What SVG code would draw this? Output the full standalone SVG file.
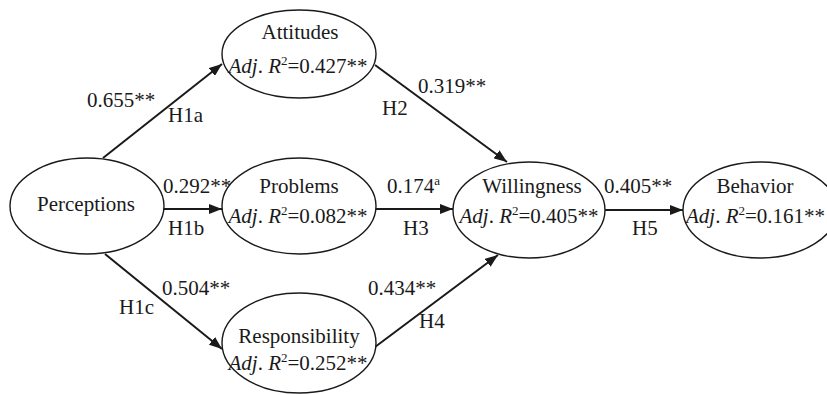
<svg xmlns="http://www.w3.org/2000/svg" width="827" height="395" viewBox="0 0 827 395">
<defs>
<style>
text{font-family:"Liberation Serif","Times New Roman",serif;font-size:21px;fill:#1a1a1a}
.n ellipse{fill:#fff;stroke:#1a1a1a;stroke-width:1.4}
.c line{stroke:#1a1a1a;stroke-width:2}
.i{font-style:italic}
.s{font-size:13px}
.m{text-anchor:middle}
</style>
<marker id="ah" markerUnits="userSpaceOnUse" markerWidth="13" markerHeight="10" refX="13" refY="5" orient="auto">
<path d="M0,0 L13,5 L0,10 z" fill="#1a1a1a"/>
</marker>
</defs>
<rect width="827" height="395" fill="#fff"/>
<g class="c" id="connectors">
<line x1="103" y1="158" x2="222" y2="64" marker-end="url(#ah)"/>
<line x1="163" y1="209" x2="222" y2="209" marker-end="url(#ah)"/>
<line x1="105" y1="254" x2="222" y2="349" marker-end="url(#ah)"/>
<line x1="375" y1="65" x2="507" y2="162" marker-end="url(#ah)"/>
<line x1="376" y1="209" x2="453" y2="209" marker-end="url(#ah)"/>
<line x1="375" y1="347" x2="498" y2="255" marker-end="url(#ah)"/>
<line x1="605" y1="210" x2="683" y2="210" marker-end="url(#ah)"/>
</g>
<g class="n" id="perceptions">
<ellipse cx="87" cy="206" rx="77" ry="48"/>
<text x="86" y="211" class="m">Perceptions</text>
</g>
<g class="n" id="attitudes">
<ellipse cx="299" cy="54" rx="77" ry="44"/>
<text x="300" y="39" class="m">Attitudes</text>
<text x="298" y="73" class="m"><tspan class="i">Adj</tspan>. <tspan class="i">R</tspan><tspan class="s" dy="-8">2</tspan><tspan dy="8">=0.427**</tspan></text>
</g>
<g class="n" id="problems">
<ellipse cx="299" cy="206" rx="77" ry="48"/>
<text x="299" y="193" class="m">Problems</text>
<text x="298" y="223" class="m"><tspan class="i">Adj</tspan>. <tspan class="i">R</tspan><tspan class="s" dy="-8">2</tspan><tspan dy="8">=0.082**</tspan></text>
</g>
<g class="n" id="responsibility">
<ellipse cx="299" cy="343" rx="77" ry="50"/>
<text x="299" y="343" class="m">Responsibility</text>
<text x="298" y="370" class="m"><tspan class="i">Adj</tspan>. <tspan class="i">R</tspan><tspan class="s" dy="-8">2</tspan><tspan dy="8">=0.252**</tspan></text>
</g>
<g class="n" id="willingness">
<ellipse cx="529" cy="210" rx="76" ry="48"/>
<text x="532" y="193" class="m">Willingness</text>
<text x="529" y="223" class="m"><tspan class="i">Adj</tspan>. <tspan class="i">R</tspan><tspan class="s" dy="-8">2</tspan><tspan dy="8">=0.405**</tspan></text>
</g>
<g class="n" id="behavior">
<ellipse cx="760" cy="210" rx="77" ry="48"/>
<text x="755" y="193" class="m">Behavior</text>
<text x="686" y="223"><tspan class="i">Adj</tspan>. <tspan class="i">R</tspan><tspan class="s" dy="-8">2</tspan><tspan dy="8">=0.161**</tspan></text>
</g>
<g id="labels">
<text x="87" y="107">0.655**</text>
<text x="168" y="122">H1a</text>
<text x="382" y="115">H2</text>
<text x="418" y="93">0.319**</text>
<text x="163" y="193">0.292**</text>
<text x="168" y="235">H1b</text>
<text x="387" y="193">0.174<tspan class="s" dy="-8">a</tspan></text>
<text x="403" y="235">H3</text>
<text x="604" y="193">0.405**</text>
<text x="632" y="235">H5</text>
<text x="162" y="295">0.504**</text>
<text x="119" y="314">H1c</text>
<text x="368" y="295">0.434**</text>
<text x="419" y="328">H4</text>
</g>
</svg>
